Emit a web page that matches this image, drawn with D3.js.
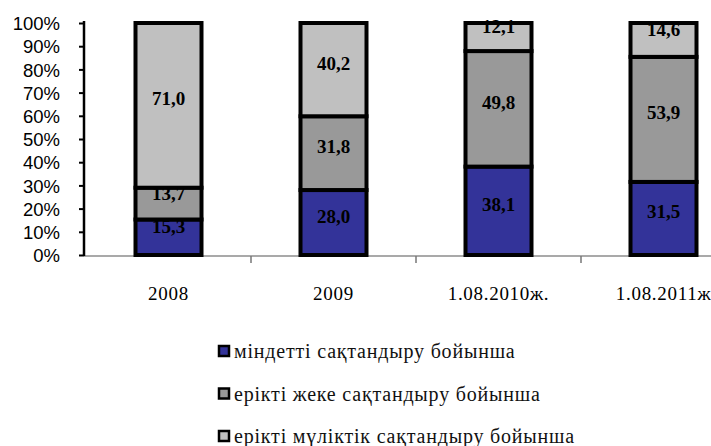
<!DOCTYPE html>
<html>
<head>
    <meta charset="utf-8">
    <title>Сақтандыру түрлері</title>
    <script src="https://cdnjs.cloudflare.com/ajax/libs/d3/7.8.5/d3.min.js"></script>
    <style>
        body {
            margin: 0;
            background-color: white;
        }
    </style>
</head>

<body>
    <div id="chart"></div>

    <script>
        const categories = ["2008", "2009", "1.08.2010ж.", "1.08.2011ж"];
        const seriesNames = [
            "міндетті сақтандыру бойынша",
            "ерікті жеке сақтандыру бойынша",
            "ерікті мүліктік сақтандыру бойынша"
        ];
        const mandatory = [15.3, 28.0, 38.1, 31.5];
        const voluntaryPersonal = [13.7, 31.8, 49.8, 53.9];
        const voluntaryProperty = [71.0, 40.2, 12.1, 14.6];
        const yTicks = [0, 10, 20, 30, 40, 50, 60, 70, 80, 90, 100];
        const colors = ["#333399", "#999999", "#c0c0c0"];

        const serif = "Liberation Serif";
        const sans = "Liberation Sans";

        const width = 711, height = 446;

        const svg = d3.select("#chart").append("svg")
            .attr("width", width)
            .attr("height", height);

        const x = d3.scaleBand()
            .domain(categories)
            .range([86, 746]);

        const y = d3.scaleLinear()
            .domain([0, 100])
            .range([255, 23]);

        // stack the three series
        const rows = categories.map((c, i) => ({
            cat: c,
            s0: mandatory[i],
            s1: voluntaryPersonal[i],
            s2: voluntaryProperty[i]
        }));
        const stack = d3.stack().keys(["s0", "s1", "s2"])(rows);

        // x axis line and ticks
        svg.append("line")
            .attr("x1", 84).attr("x2", width)
            .attr("y1", y(0) + 1).attr("y2", y(0) + 1)
            .attr("stroke", "#555")
            .attr("stroke-width", 1.2);

        svg.selectAll(".xtick")
            .data(categories.slice(1))
            .enter().append("line")
            .attr("class", "xtick")
            .attr("x1", d => x(d)).attr("x2", d => x(d))
            .attr("y1", y(0) + 1).attr("y2", y(0) + 8)
            .attr("stroke", "#777")
            .attr("stroke-width", 1.5);

        svg.selectAll(".xlabel")
            .data(categories)
            .enter().append("text")
            .attr("class", "xlabel")
            .attr("x", d => x(d) + x.bandwidth() / 2)
            .attr("y", 300)
            .attr("text-anchor", "middle")
            .attr("font-family", serif)
            .attr("font-size", 19)
            .style("letter-spacing", "0.7px")
            .text(d => d);

        // y axis
        const yAxis = svg.append("g")
            .attr("transform", "translate(84,0)")
            .call(d3.axisLeft(y)
                .tickValues(yTicks)
                .tickSize(5)
                .tickPadding(19)
                .tickFormat(d => d + "%"));
        yAxis.attr("font-family", sans).attr("font-size", 18.5);
        yAxis.select(".domain")
            .attr("d", `M0,${y(100) - 2}V${y(0) + 1}`)
            .attr("stroke", "black")
            .attr("stroke-width", 2.5);
        yAxis.selectAll(".tick line")
            .attr("stroke", "black")
            .attr("stroke-width", 2);
        yAxis.selectAll(".tick text")
            .attr("dy", "0.36em")
            .attr("fill", "black");

        // bars
        const barW = 66;
        const layers = svg.selectAll(".layer")
            .data(stack)
            .enter().append("g")
            .attr("class", "layer")
            .attr("fill", (d, i) => colors[i]);

        layers.selectAll("rect")
            .data(d => d)
            .enter().append("rect")
            .attr("x", d => x(d.data.cat) + x.bandwidth() / 2 - barW / 2)
            .attr("y", d => y(d[1]))
            .attr("width", barW)
            .attr("height", d => y(d[0]) - y(d[1]))
            .attr("stroke", "black")
            .attr("stroke-width", 4);

        // value labels
        layers.selectAll("text")
            .data(d => d.map(v => ({ v: v, val: v[1] - v[0] })))
            .enter().append("text")
            .attr("x", d => x(d.v.data.cat) + x.bandwidth() / 2)
            .attr("y", d => {
                const top = y(d.v[1]), bot = y(d.v[0]);
                const mid = (top + bot) / 2;
                return (bot - top) < 40 ? mid - 4 : mid;
            })
            .attr("text-anchor", "middle")
            .attr("fill", "black")
            .attr("font-family", serif)
            .attr("font-weight", "bold")
            .attr("font-size", 19)
            .text(d => d3.format(".1f")(d.val).replace(".", ","));

        // legend
        const legend = svg.append("g")
            .selectAll("g")
            .data(seriesNames)
            .enter().append("g")
            .attr("transform", (d, i) => `translate(218,${358 + i * 42.5})`);

        legend.append("rect")
            .attr("x", 1).attr("y", -12)
            .attr("width", 10).attr("height", 10)
            .attr("fill", (d, i) => colors[i])
            .attr("stroke", "black")
            .attr("stroke-width", 2.5);

        legend.append("text")
            .attr("x", 16)
            .attr("y", 0)
            .attr("fill", "#111")
            .attr("font-family", serif)
            .attr("font-size", 20)
            .style("letter-spacing", "0.8px")
            .text(d => d);
    </script>
</body>
</html>
